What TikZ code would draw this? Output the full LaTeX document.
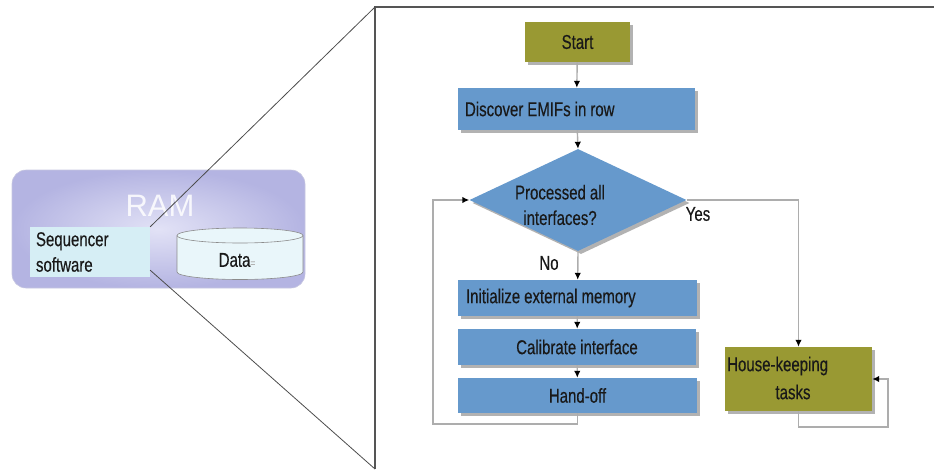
\documentclass[tikz,border=0pt]{standalone}
\usepackage{fontspec}
\setmainfont{Liberation Sans}[FakeStretch=0.75, FakeBold=0.35]
\newfontfamily\ramfont{Liberation Sans}
\usetikzlibrary{shapes.geometric,arrows.meta,shadows}
\newcommand\flowfont{\fontsize{20}{25.5}\selectfont\spaceskip 0.2em plus 0.05em\relax}
\definecolor{olivebox}{HTML}{999933}
\definecolor{bluebox}{HTML}{6699CC}
\definecolor{linegray}{HTML}{ADADAD}
\definecolor{framegray}{HTML}{555555}
\definecolor{seqfill}{HTML}{D6EEF5}
\definecolor{datafill}{HTML}{E9F6FA}
\definecolor{ramin}{HTML}{E2E2F6}
\definecolor{ramout}{HTML}{B4B4E2}
\tikzset{
  txt/.style={font=\flowfont, text=black!90},
  boxshadow/.style={drop shadow={shadow xshift=3pt, shadow yshift=-3pt, opacity=0.5, fill=black!60}},
  bluestep/.style={txt, rectangle, fill=bluebox, boxshadow, inner sep=0pt},
  olivestep/.style={txt, rectangle, fill=olivebox, boxshadow, inner sep=0pt},
  conn/.style={draw=linegray, line width=1.4pt, -{Latex[color=black, length=7pt, width=6.5pt]}},
}
\begin{document}
\begin{tikzpicture}[x=1pt, y=-1pt]
\useasboundingbox (0,0) rectangle (934,469);
% RAM block
\node[rectangle, rounded corners=14pt, inner color=ramin, outer color=ramout, draw=ramout!90!black!60, line width=0.6pt,
      minimum width=293pt, minimum height=118pt] (ram) at (158.5,229) {};
\node[font=\ramfont\fontsize{31}{31}\selectfont, text=white, opacity=0.85] (ramlabel) at (160,206) {RAM};
\node[txt, rectangle, fill=seqfill, minimum width=120pt, minimum height=50pt, text width=108pt, align=left, inner xsep=6pt, inner ysep=0pt] (seq) at (90,252) {Sequencer\\software};
% Data cylinder
\path[fill=datafill, draw=black!45, line width=0.6pt] (177,235.5) -- (177,272)
   arc[start angle=180, end angle=360, x radius=63pt, y radius=7.5pt] -- (303,235.5)
   arc[start angle=0, end angle=180, x radius=63pt, y radius=7.5pt] -- cycle;
\draw[black!45, line width=0.6pt] (177,235.5) arc[start angle=180, end angle=360, x radius=63pt, y radius=7.5pt];
\node[txt, inner sep=0pt] (data) at (237,260) {Data\textcolor{black!30}{\fontsize{11}{11}\selectfont=}};
% frame
\coordinate (ftl) at (375,7);
\coordinate (fbl) at (375,469);
\coordinate (ftr) at (934,7);
\draw[framegray, line width=1.6pt] (fbl) -- (ftl) -- (ftr);
\draw[black!70, line width=0.8pt] (seq.north east) -- (ftl);
\draw[black!70, line width=0.8pt] ([yshift=7pt]seq.south east) -- (fbl);
% flowchart
\node[olivestep, minimum width=105pt, minimum height=40pt] (start) at (577.5,42) {Start};
\node[bluestep, minimum width=237pt, minimum height=42pt] (disc) at (576.5,109) {\makebox[223pt][l]{Discover EMIFs in row}};
\node[diamond, fill=bluebox, boxshadow, minimum width=217pt, minimum height=102pt, inner sep=0pt, aspect=2] (dia) at (578,200) {};
\node[txt, align=center, inner sep=0pt] (diatext) at (560,205) {Processed all\\interfaces?};
\node[bluestep, minimum width=239pt, minimum height=36pt] (init) at (577.5,298) {\makebox[223pt][l]{Initialize external memory}};
\node[bluestep, minimum width=238pt, minimum height=36pt] (cal) at (577,347) {Calibrate interface};
\node[bluestep, minimum width=239pt, minimum height=35pt] (ho) at (577.5,395.5) {Hand-off};
\node[olivestep, minimum width=147pt, minimum height=64pt] (hk) at (798.5,379) {};
\node[txt, anchor=west, inner sep=0pt] (hk1) at (727,366) {House-keeping};
\node[txt, inner sep=0pt] (hk2) at (793,392) {tasks};
\node[txt, inner sep=0pt] (yes) at (698,214) {Yes};
\node[txt, inner sep=0pt] (no) at (549,263) {No};
% connectors
\draw[conn] (start) -- (disc);
\draw[conn] (disc) -- (dia.north);
\draw[conn] (dia.south) -- (init);
\draw[conn] (init) -- (cal);
\draw[conn] (cal) -- (ho);
\coordinate (lb) at (433,424);
\draw[conn] (ho.south) |- (lb) |- (dia.west);
\draw[conn] (dia.east) -| (hk.north);
\coordinate (rb) at (888,427);
\draw[conn] (hk.south) |- (rb) |- (hk.east);
\end{tikzpicture}
\end{document}
